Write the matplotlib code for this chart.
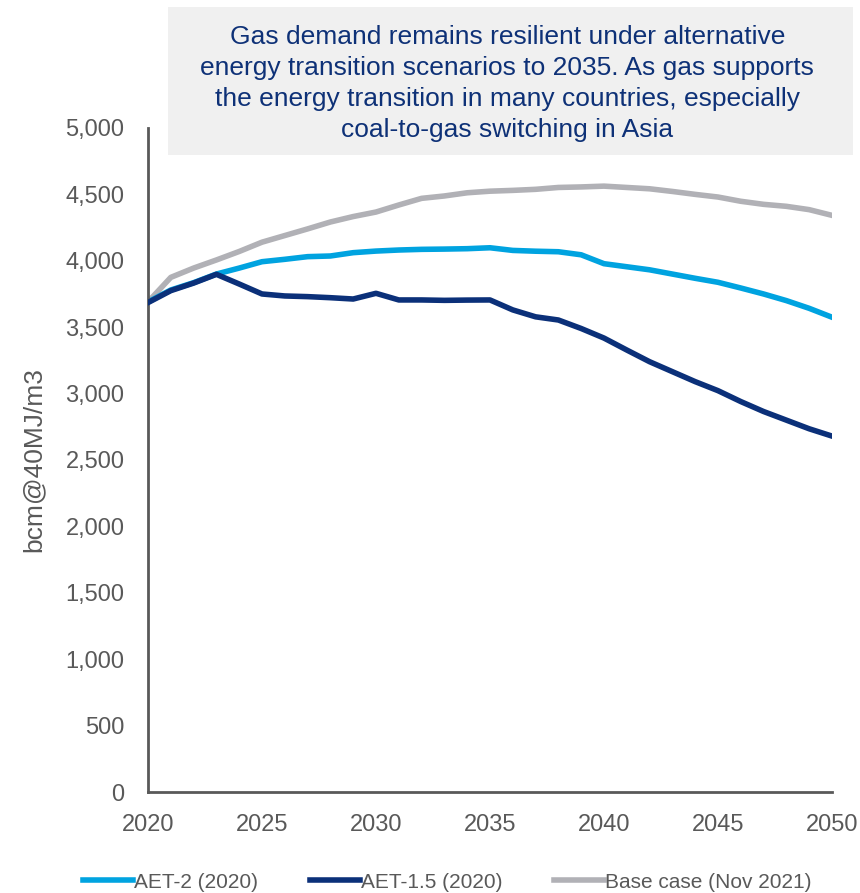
import matplotlib
matplotlib.use('Agg')
import matplotlib.pyplot as plt
from matplotlib.patches import Rectangle
from matplotlib.ticker import FuncFormatter

plt.rcParams['font.family'] = ['Liberation Sans', 'DejaVu Sans']

years = list(range(2020, 2051))

aet2 = [3690, 3780, 3835, 3900, 3945, 3993, 4011, 4031, 4036, 4061,
        4073, 4081, 4086, 4088, 4091, 4098, 4078, 4072, 4068, 4045,
        3978, 3955, 3932, 3900, 3868, 3838, 3795, 3750, 3700, 3642, 3575]

aet15 = [3685, 3775, 3832, 3898, 3825, 3750, 3735, 3730, 3722, 3712,
         3755, 3705, 3705, 3702, 3704, 3705, 3630, 3578, 3554, 3490,
         3418, 3328, 3240, 3165, 3090, 3022, 2940, 2865, 2800, 2735, 2680]

base = [3690, 3875, 3945, 4006, 4070, 4140, 4190, 4240, 4292, 4333,
        4367, 4420, 4470, 4488, 4512, 4524, 4530, 4538, 4552, 4556,
        4562, 4552, 4542, 4522, 4500, 4480, 4448, 4425, 4410, 4385, 4342]

grey_txt = '#595959'

fig = plt.figure(figsize=(8.6, 8.93), dpi=100)
ax = fig.add_axes([0.1721, 0.1131, 0.7953, 0.7436])

ax.plot(years, aet2, color='#00a3e0', lw=4, label='AET-2 (2020)', zorder=2)
ax.plot(years, aet15, color='#0b3079', lw=4, label='AET-1.5 (2020)', zorder=3)
ax.plot(years, base, color='#b1b1b6', lw=4, label='Base case (Nov 2021)', zorder=1)

ax.set_xlim(2020, 2050)
ax.set_ylim(0, 5000)
ax.set_xticks(range(2020, 2051, 5))
ax.set_yticks(range(0, 5001, 500))
ax.yaxis.set_major_formatter(FuncFormatter(lambda v, p: f'{int(v):,}'))
ax.tick_params(length=0, labelsize=17, colors=grey_txt)
ax.tick_params(axis='y', pad=17)
ax.tick_params(axis='x', pad=16)
for s in ['top', 'right']:
    ax.spines[s].set_visible(False)
for s in ['left', 'bottom']:
    ax.spines[s].set_color(grey_txt)
    ax.spines[s].set_linewidth(2)
ax.set_ylabel('bcm@40MJ/m3', fontsize=19, color=grey_txt, labelpad=14)

# title box
fig.patches.append(Rectangle((0.1953, 0.8264), 0.7966, 0.1658, transform=fig.transFigure,
                             facecolor='#f0f0f0', edgecolor='none', zorder=5))
fig.text(0.59, 0.9065,
         'Gas demand remains resilient under alternative\n'
         'energy transition scenarios to 2035. As gas supports\n'
         'the energy transition in many countries, especially\n'
         'coal-to-gas switching in Asia',
         ha='center', va='center', fontsize=19, color='#0e3177',
         linespacing=1.38, zorder=6)

fig.legend(loc='center', bbox_to_anchor=(0.52, 0.012), ncol=3, frameon=False,
           fontsize=15, handlelength=2.4, handletextpad=0.05, columnspacing=2.5,
           labelcolor=grey_txt)

fig.savefig('out.png', dpi=100)
